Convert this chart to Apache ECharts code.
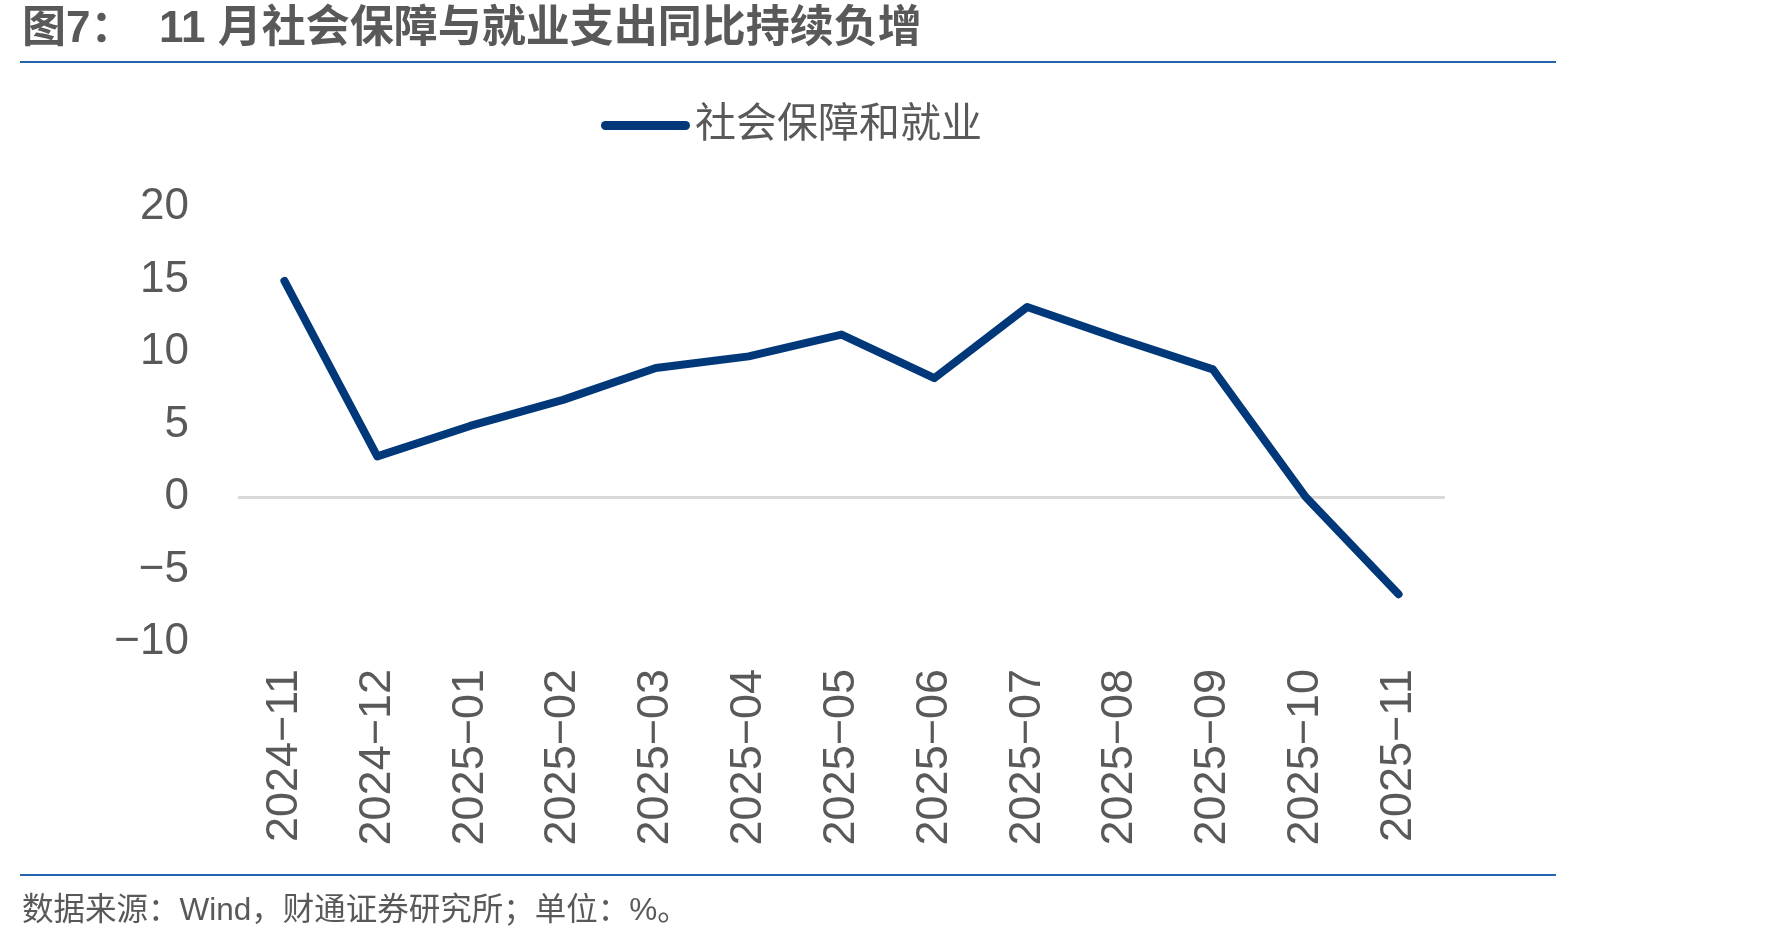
<!DOCTYPE html>
<html>
<head>
<meta charset="utf-8">
<title>社会保障与就业支出</title>
<script src="https://cdn.jsdelivr.net/npm/echarts@6/dist/echarts.min.js"></script>
<style>
    html, body { margin: 0; padding: 0; background: #fff; }
    #chart { width: 1771px; height: 942px; }
</style>
</head>
<body>
<div id="chart"></div>
<script>
'use strict';

// data
var months = ['2024-11', '2024-12', '2025-01', '2025-02', '2025-03', '2025-04', '2025-05',
    '2025-06', '2025-07', '2025-08', '2025-09', '2025-10', '2025-11'];
var socialSecurity = [14.9, 2.8, 4.9, 6.7, 8.9, 9.7, 11.2, 8.2, 13.1, 10.9, 8.8, 0.0, -6.7];
var seriesName = '社会保障和就业';
var titleText = '图7：  11 月社会保障与就业支出同比持续负增';
var sourceText = '数据来源：Wind，财通证券研究所；单位：%。';

var FONT = "'Liberation Sans', 'Noto Sans CJK SC', sans-serif";
var GREY = '#595959';
var RULE = '#2563ad';

var chart = echarts.init(document.getElementById('chart'), null, {renderer: 'canvas'});

// only the zero split line is visible (ticks -10..20, zero is the third)
var splitColors = ['rgba(0,0,0,0)', 'rgba(0,0,0,0)', '#d9d9d9',
    'rgba(0,0,0,0)', 'rgba(0,0,0,0)', 'rgba(0,0,0,0)', 'rgba(0,0,0,0)'];

var minus = function(s) { return String(s).replace('-', '\u2212'); };

chart.setOption({
    animation: false,
    backgroundColor: '#fff',
    textStyle: { fontFamily: FONT },
    legend: {
        left: 596,
        top: 100,
        itemWidth: 89,
        itemHeight: 9,
        icon: 'path://M4.5,0 H84.5 A4.5,4.5 0 0 1 84.5,9 H4.5 A4.5,4.5 0 0 1 4.5,0 Z',
        textStyle: { fontSize: 41, color: GREY, fontFamily: FONT },
        data: [seriesName]
    },
    grid: { left: 238, right: 326, top: 207, bottom: 300 },
    xAxis: {
        type: 'category',
        data: months,
        axisLine: { show: false },
        axisTick: { show: false },
        axisLabel: {
            rotate: 90,
            margin: 27,
            fontSize: 45,
            color: GREY,
            fontFamily: FONT,
            formatter: minus
        }
    },
    yAxis: {
        type: 'value',
        min: -10,
        max: 20,
        interval: 5,
        axisLine: { show: false },
        axisTick: { show: false },
        axisLabel: {
            margin: 49,
            fontSize: 44,
            color: GREY,
            fontFamily: FONT,
            formatter: minus
        },
        splitLine: { show: true, lineStyle: { color: splitColors, width: 3 } }
    },
    series: [{
        name: seriesName,
        type: 'line',
        data: socialSecurity,
        symbol: 'none',
        color: '#00387a',
        lineStyle: { width: 8, color: '#00387a', cap: 'round', join: 'round' }
    }],
    graphic: [
        {
            type: 'text', left: 22, top: 8,
            style: { text: titleText, font: "bold 44px " + FONT, fill: GREY }
        },
        {
            type: 'rect', shape: { x: 20, y: 61, width: 1536, height: 2 },
            style: { fill: RULE }
        },
        {
            type: 'rect', shape: { x: 20, y: 874, width: 1536, height: 2 },
            style: { fill: RULE }
        },
        {
            type: 'text', left: 22, top: 896,
            style: { text: sourceText, font: "31.5px " + FONT, fill: GREY }
        }
    ]
});
</script>
</body>
</html>
